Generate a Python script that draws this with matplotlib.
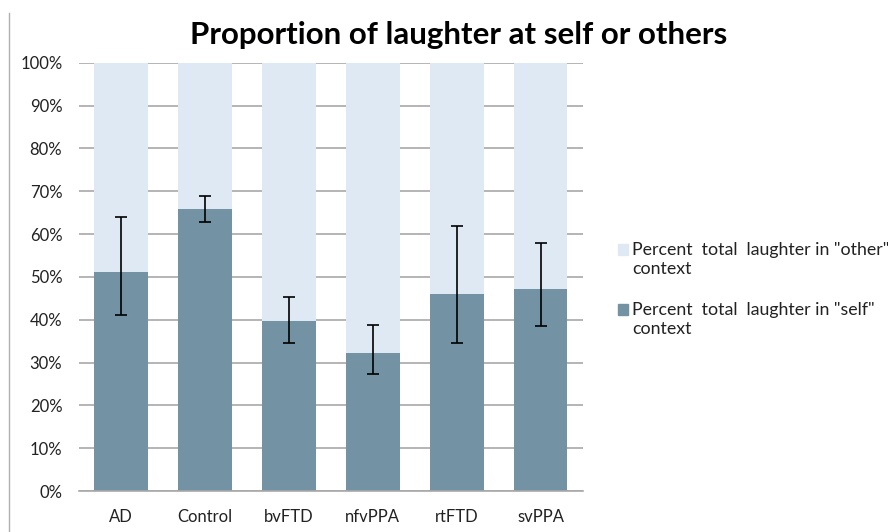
import matplotlib.pyplot as plt
import numpy as np
from matplotlib.lines import Line2D
from matplotlib.patches import Rectangle

# Data (percent)
groups = ["AD", "Control", "bvFTD", "nfvPPA", "rtFTD", "svPPA"]
self_pct = [51.2, 65.9, 39.8, 32.3, 46.0, 47.1]
err_low = [41.0, 62.9, 34.5, 27.3, 34.5, 38.5]
err_high = [63.9, 69.0, 45.3, 38.7, 61.8, 57.9]
other_pct = [100 - v for v in self_pct]
legend_labels = ['Percent  total  laughter in "other"\ncontext',
                 'Percent  total  laughter in "self"\ncontext']

dark = "#7393a4"
light = "#dfe9f4"

plt.rcParams["font.family"] = ["Lato", "DejaVu Sans"]

fig = plt.figure(figsize=(8.88, 5.32), dpi=100)
ax = fig.add_axes([0.089, 0.077, 0.567, 0.805])

x = np.arange(len(groups))
ax.bar(x, self_pct, width=0.64, color=dark, zorder=2)
ax.bar(x, other_pct, width=0.64, bottom=self_pct, color=light, zorder=2)

# Error bars
lo = np.array(self_pct) - np.array(err_low)
hi = np.array(err_high) - np.array(self_pct)
ax.errorbar(x, self_pct, yerr=[lo, hi], fmt="none", ecolor="black",
            elinewidth=1.2, capsize=4, capthick=1.2, zorder=3)

# Axes styling
ax.set_xlim(-0.5, len(groups) - 0.5)
ax.set_ylim(0, 100)
ax.set_yticks(np.arange(0, 101, 10))
ax.set_yticklabels([f"{v}%" for v in range(0, 101, 10)])
ax.set_xticks(x)
ax.set_xticklabels(groups)
ax.yaxis.grid(True, color="#a8a8a8", linewidth=1.2, zorder=0)
ax.set_axisbelow(True)
for side in ["top", "right", "left"]:
    ax.spines[side].set_visible(False)
ax.spines["bottom"].set_color("#a8a8a8")
ax.spines["bottom"].set_linewidth(1.2)
ax.tick_params(axis="both", length=0, labelsize=12, colors="#222222")
ax.tick_params(axis="x", pad=13)
ax.tick_params(axis="y", pad=12)

fig.text(0.516, 0.935, "Proportion of laughter at self or others",
         ha="center", va="center", fontsize=22.5, fontweight="bold")

# Legend (square sits beside the first line of each two-line label)
W, H = 888, 532
for i, (lab, col) in enumerate(zip(legend_labels, [light, dark])):
    top = 244 + i * 60
    fig.add_artist(Rectangle((618 / W, 1 - (top + 11) / H), 10 / W, 11 / H,
                             transform=fig.transFigure, color=col))
    fig.text(632 / W, 1 - (top - 2) / H, lab, ha="left", va="top",
             fontsize=12.8, linespacing=1.25, color="#222222")

# Thin border line at the left edge
fig.add_artist(Line2D([0.01, 0.01], [0, 0.975], color="#b0b0b0", linewidth=1))

fig.savefig("out.png", dpi=100)
